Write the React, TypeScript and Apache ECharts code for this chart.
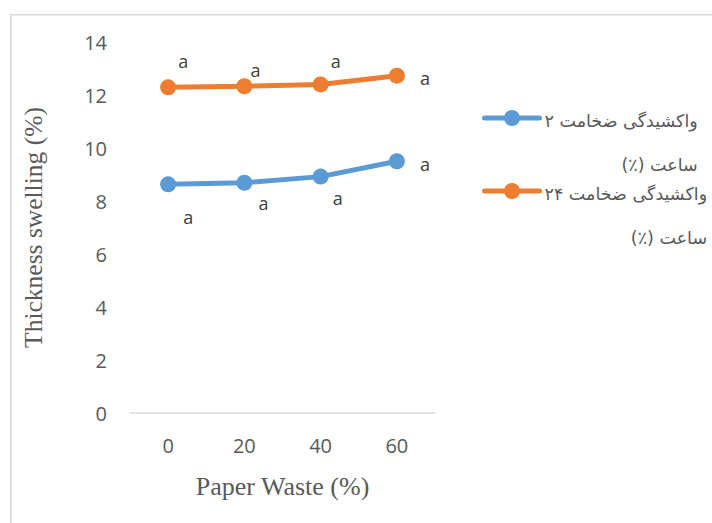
import React, { useEffect, useRef } from "react";
import * as echarts from "echarts";

const categories = ["0", "20", "40", "60"];
const seriesNames = ["واکشیدگی ضخامت ۲ ساعت (٪)", "واکشیدگی ضخامت ۲۴ ساعت (٪)"];
const swelling2h = [8.63, 8.69, 8.92, 9.5];
const swelling24h = [12.29, 12.33, 12.4, 12.73];
const letters2h = ["a", "a", "a", "a"];
const letters24h = ["a", "a", "a", "a"];
const yMin = 0;
const yMax = 14;
const yInterval = 2;
const xTitle = "Paper Waste (%)";
const yTitle = "Thickness swelling (%)";

// label placement styles (pixel offsets from each marker)
const offsets2h = [[20, 33], [19, 20], [17, 21], [28, 3]];
const offsets24h = [[15, -26], [11, -16], [15, -23], [28, 2]];

const BLUE = "#5b9bd5";
const ORANGE = "#ed7d31";
const TEXT = "#595959";

function legendFormatter(name: string) {
  const i = name.lastIndexOf(" ساعت");
  const l1 = name.slice(0, i);
  const l2 = name.slice(i + 1);
  return `{t|\u200F${l1}\u200F}\n{t|\u200F${l2}\u200F}`;
}

function makeLegend(name: string, top: number) {
  return {
    data: [name],
    left: 482,
    top,
    padding: 0,
    itemWidth: 55,
    itemHeight: 20,
    itemGap: 4,
    formatter: legendFormatter,
    lineStyle: { width: 5, cap: "round" },
    textStyle: {
      color: TEXT,
      fontFamily: "DejaVu Sans",
      fontSize: 17.5,
      padding: [50, 0, 0, 0],
      rich: {
        t: { align: "right", fontFamily: "DejaVu Sans", fontSize: 17.5, color: TEXT, lineHeight: 44 },
      },
    },
  };
}

function makeData(values: number[], letters: string[], offs: number[][]) {
  return values.map((v, i) => ({
    value: v,
    label: {
      show: true,
      position: "inside",
      offset: offs[i],
      formatter: () => letters[i],
    },
  }));
}

export default function App() {
  const ref = useRef<HTMLDivElement>(null);
  useEffect(() => {
    if (!ref.current) return;
    const chart = echarts.init(ref.current, null, { renderer: "svg" });
    const labelStyle = { color: "#404040", fontSize: 18, fontFamily: "Open Sans" };
    chart.setOption({
      animation: false,
      backgroundColor: "#ffffff",
      graphic: [
        {
          type: "rect",
          left: 10,
          top: 14,
          shape: { width: 760, height: 560 },
          style: { fill: "transparent", stroke: "#d9d9d9", lineWidth: 1.5 },
          silent: true,
        },
      ],
      legend: [makeLegend(seriesNames[0], 110), makeLegend(seriesNames[1], 183)],
      grid: { left: 130, right: 277, top: 42, bottom: 110, containLabel: false },
      xAxis: {
        type: "category",
        data: categories,
        boundaryGap: true,
        axisLine: { show: true, lineStyle: { color: "#d9d9d9", width: 1.5 } },
        axisTick: { show: false },
        axisLabel: { color: TEXT, fontSize: 20, fontFamily: "Open Sans", margin: 22 },
        splitLine: { show: false },
        name: xTitle,
        nameLocation: "middle",
        nameGap: 60,
        nameTextStyle: { color: TEXT, fontSize: 26, fontFamily: "Liberation Serif" },
      },
      yAxis: {
        type: "value",
        min: yMin,
        max: yMax,
        interval: yInterval,
        axisLine: { show: false },
        axisTick: { show: false },
        splitLine: { show: false },
        axisLabel: { color: TEXT, fontSize: 20, fontFamily: "Open Sans", margin: 23 },
        name: yTitle,
        nameLocation: "middle",
        nameGap: 84,
        nameTextStyle: { color: TEXT, fontSize: 25.5, fontFamily: "Liberation Serif" },
      },
      series: [
        {
          name: seriesNames[0],
          type: "line",
          data: makeData(swelling2h, letters2h, offsets2h),
          symbol: "circle",
          symbolSize: 16,
          lineStyle: { color: BLUE, width: 5 },
          itemStyle: { color: BLUE },
          label: labelStyle,
        },
        {
          name: seriesNames[1],
          type: "line",
          data: makeData(swelling24h, letters24h, offsets24h),
          symbol: "circle",
          symbolSize: 16,
          lineStyle: { color: ORANGE, width: 5 },
          itemStyle: { color: ORANGE },
          label: labelStyle,
        },
      ],
    });
    return () => chart.dispose();
  }, []);
  return (
    <div
      ref={ref}
      style={{ position: "fixed", left: 0, top: 0, width: 712, height: 523 }}
    />
  );
}
